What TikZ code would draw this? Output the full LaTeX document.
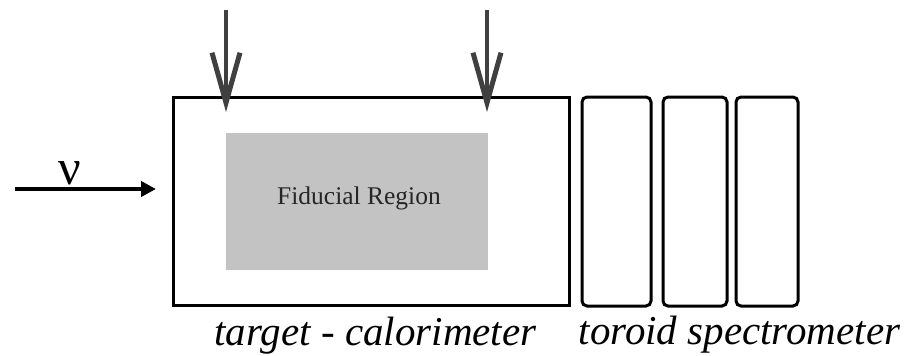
\documentclass[tikz,border=0pt]{standalone}
\usepackage{fontspec}
\setmainfont{Liberation Serif}
\usepackage{tikz}
\usetikzlibrary{arrows.meta}

\definecolor{fidgray}{RGB}{195,195,195}
\definecolor{arrowgray}{RGB}{64,64,64}

\tikzset{
  detbox/.style={draw=black, line width=3pt, inner sep=0pt, outer sep=0pt},
  toroidbox/.style={detbox, rounded corners=5pt, minimum height=209pt},
  labeltext/.style={font=\fontsize{41}{48}\selectfont\itshape, anchor=base},
  beamarrow/.style={-{Straight Barb[length=50pt, width=28pt, line width=5pt]}, line width=4pt, draw=arrowgray}
}

\begin{document}
\begin{tikzpicture}[x=1pt, y=-1pt]
          \useasboundingbox (0, 0) rectangle (919, 356);
          \node [detbox, minimum width=396pt, minimum height=208pt] (target) at (371, 201) {};
          \node [fill=fidgray, inner sep=0pt, minimum width=262pt, minimum height=137pt] (fiducial) at (357, 201.5) {};
          \node [text=black!85, font=\fontsize{25.5}{30}\selectfont] (fidtext) at (359, 198) {Fiducial Region};
          \node [toroidbox, minimum width=69pt] (toroidA) at (616.5, 201.5) {};
          \node [toroidbox, minimum width=64pt] (toroidB) at (695, 201.5) {};
          \node [toroidbox, minimum width=62pt] (toroidC) at (767, 201.5) {};
          \node [labeltext] (targetlabel) at (375.5, 345) {target - calorimeter};
          \node [labeltext] (toroidlabel) at (739.5, 344) {toroid spectrometer};
          % incoming neutrino
          \coordinate (nustart) at (15, 189);
          \coordinate (nuend) at (156, 189);
          \draw [-{Triangle[length=15pt, width=15pt]}, line width=4pt] (nustart) -- (nuend);
          \node [font=\fontsize{50}{56}\selectfont] (nu) at (70, 173) {ν};
          % arrows from above
          \coordinate (topA) at (226, 10);
          \coordinate (tipA) at (226, 112);
          \coordinate (topB) at (487, 10);
          \coordinate (tipB) at (487, 112);
          \draw [beamarrow] (topA) -- (tipA);
          \draw [beamarrow] (topB) -- (tipB);
        \end{tikzpicture}
\end{document}
